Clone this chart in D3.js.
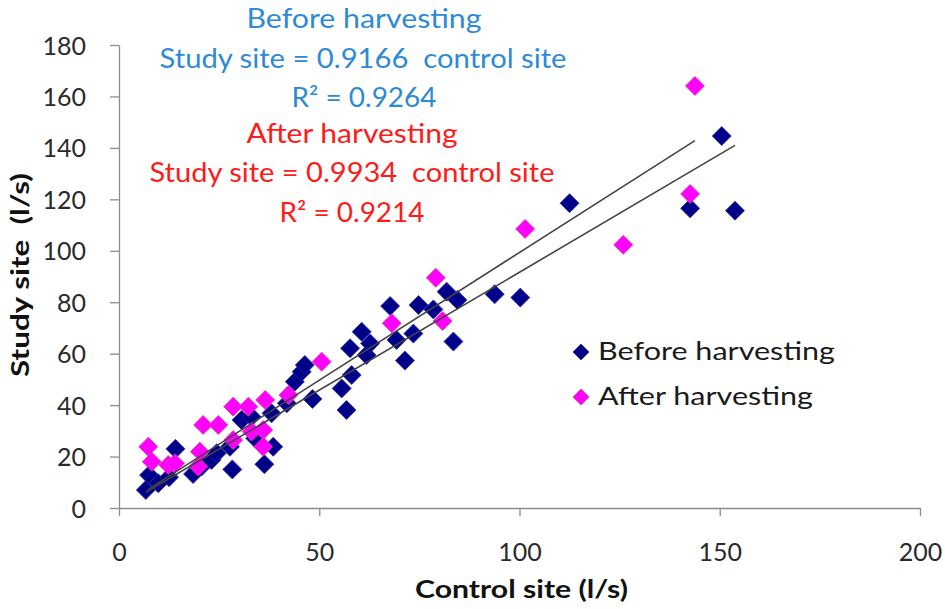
<!DOCTYPE html>
<html>
<head>
<meta charset="utf-8">
<script src="https://cdn.jsdelivr.net/npm/d3@7"></script>
<style>
  body { margin: 0; background: #fff; }
  svg { display: block; font-family: Lato, "Open Sans", sans-serif; }
</style>
</head>
<body>
<svg id="chart" width="945" height="609"></svg>
<script>
// control site (l/s), study site (l/s)
const beforeControl = [6.7, 7.5, 9.8, 12.5, 14.1, 18.5, 20.6, 23.1, 24.4, 27.7, 28.3, 30.6, 33.1, 34.0, 38.1, 36.3, 38.5, 41.9, 43.9, 45.6, 46.4, 48.3, 55.6, 56.8, 57.7, 58.1, 60.6, 61.8, 62.7, 67.7, 69.3, 71.4, 73.5, 74.8, 78.5, 81.8, 84.5, 83.5, 93.8, 100.2, 112.5, 142.6, 150.5, 153.8];
const beforeStudy   = [7.0, 12.8, 9.6, 12.0, 23.0, 13.2, 16.1, 18.7, 21.3, 23.8, 15.0, 34.2, 35.5, 27.1, 36.8, 17.0, 23.8, 40.7, 49.1, 53.0, 55.6, 42.4, 46.5, 38.1, 62.1, 51.7, 68.5, 59.5, 64.0, 78.5, 65.3, 57.3, 67.8, 78.9, 77.2, 84.1, 80.9, 64.7, 83.1, 81.8, 118.5, 116.5, 144.6, 115.6];
const afterControl  = [7.3, 8.2, 12.3, 14.0, 19.8, 20.2, 21.0, 24.8, 28.5, 28.5, 32.3, 33.1, 36.0, 36.0, 36.5, 42.3, 50.6, 68.1, 79.1, 80.8, 101.4, 125.9, 142.6, 143.8];
const afterStudy    = [23.8, 18.0, 16.7, 17.4, 16.1, 21.9, 32.3, 32.3, 39.4, 26.4, 39.4, 29.7, 30.3, 23.8, 42.0, 43.9, 56.9, 71.8, 89.5, 72.7, 108.5, 102.3, 122.1, 164.1];

const slopes = { before: 0.9166, after: 0.9934 };
const xTicks = [0, 50, 100, 150, 200];
const yTicks = [0, 20, 40, 60, 80, 100, 120, 140, 160, 180];

const navy = "#000088", pink = "#ff00ff";

const svg = d3.select("#chart");
const x = d3.scaleLinear().domain([0, 200]).range([119, 920]);
const y = d3.scaleLinear().domain([0, 180]).range([508, 45]);

// axes
const xAxis = svg.append("g").attr("transform", "translate(0,508)")
    .call(d3.axisBottom(x).tickValues(xTicks).tickSize(8).tickSizeOuter(0));
const yAxis = svg.append("g").attr("transform", "translate(119,0)")
    .call(d3.axisLeft(y).tickValues(yTicks).tickSize(9).tickSizeOuter(0));
[xAxis, yAxis].forEach(a => {
    a.selectAll("path, line").attr("stroke", "#8c8c8c").attr("stroke-width", 1.3);
    a.selectAll("text").attr("fill", "#2a2a2a").style("font-size", "25px").style("font-family", "Lato, sans-serif");
});
xAxis.selectAll("text").attr("y", 0).attr("dy", 0).attr("transform", "translate(0,53)");
yAxis.selectAll("text").attr("x", -33).attr("dy", "0.36em");

// diamond path
const diamond = (cx, cy, r) => `M${cx},${cy - r}L${cx + r},${cy}L${cx},${cy + r}L${cx - r},${cy}Z`;

// points
svg.append("g").selectAll("path")
    .data(d3.zip(beforeControl, beforeStudy))
    .enter().append("path")
    .attr("d", d => diamond(x(d[0]), y(d[1]), 9.5))
    .attr("fill", navy).attr("stroke", "#2a2aa8").attr("stroke-width", 0.8);

svg.append("g").selectAll("path")
    .data(d3.zip(afterControl, afterStudy))
    .enter().append("path")
    .attr("d", d => diamond(x(d[0]), y(d[1]), 9.5))
    .attr("fill", pink).attr("stroke", "#d8409a").attr("stroke-width", 0.8);

// trend lines through origin
const trend = [
    { k: slopes.before, lo: d3.min(beforeControl), hi: d3.max(beforeControl) },
    { k: slopes.after, lo: d3.min(afterControl), hi: d3.max(afterControl) }
];
svg.append("g").selectAll("line")
    .data(trend)
    .enter().append("line")
    .attr("x1", d => x(d.lo)).attr("y1", d => y(d.k * d.lo))
    .attr("x2", d => x(d.hi)).attr("y2", d => y(d.k * d.hi))
    .attr("stroke", "#444").attr("stroke-width", 1.6);

// equations
const notes = [
    { t: "Before harvesting", cx: 364, y: 28, w: 235, c: "#2e8ad4" },
    { t: "Study site = 0.9166  control site", cx: 363, y: 68, w: 407, c: "#2e8ad4" },
    { t: "R² = 0.9264", cx: 364, y: 107, w: 145, c: "#2e8ad4" },
    { t: "After harvesting", cx: 352, y: 143, w: 211, c: "#ff1a1a" },
    { t: "Study site = 0.9934  control site", cx: 352, y: 182, w: 405, c: "#ff1a1a" },
    { t: "R² = 0.9214", cx: 352, y: 222, w: 145, c: "#ff1a1a" }
];
svg.append("g").selectAll("text")
    .data(notes)
    .enter().append("text")
    .attr("x", d => d.cx - d.w / 2).attr("y", d => d.y)
    .attr("textLength", d => d.w).attr("lengthAdjust", "spacingAndGlyphs")
    .attr("fill", d => d.c).style("font-size", "26px")
    .style("white-space", "pre")
    .text(d => d.t);

// legend
const legend = [
    { t: "Before harvesting", c: navy, s: "#2a2aa8", y: 352, w: 237 },
    { t: "After harvesting", c: pink, s: "#d8409a", y: 397, w: 215 }
];
const lg = svg.append("g").selectAll("g").data(legend).enter().append("g");
lg.append("path").attr("d", d => diamond(581, d.y, 8)).attr("fill", d => d.c).attr("stroke", d => d.s).attr("stroke-width", 0.8);
lg.append("text").attr("x", 598).attr("y", d => d.y + 8)
    .attr("textLength", d => d.w).attr("lengthAdjust", "spacingAndGlyphs")
    .attr("fill", "#1a1a1a").style("font-size", "25px").text(d => d.t);

// axis titles
svg.append("text").attr("x", 415).attr("y", 598)
    .attr("textLength", 213).attr("lengthAdjust", "spacingAndGlyphs")
    .style("font-size", "24px").style("font-weight", "bold").attr("fill", "#111")
    .text("Control site (l/s)");
svg.append("text").attr("transform", "translate(29,377) rotate(-90)")
    .attr("textLength", 204).attr("lengthAdjust", "spacingAndGlyphs")
    .style("font-size", "24px").style("font-weight", "bold").attr("fill", "#111")
    .style("white-space", "pre")
    .text("Study site  (l/s)");
</script>
</body>
</html>
